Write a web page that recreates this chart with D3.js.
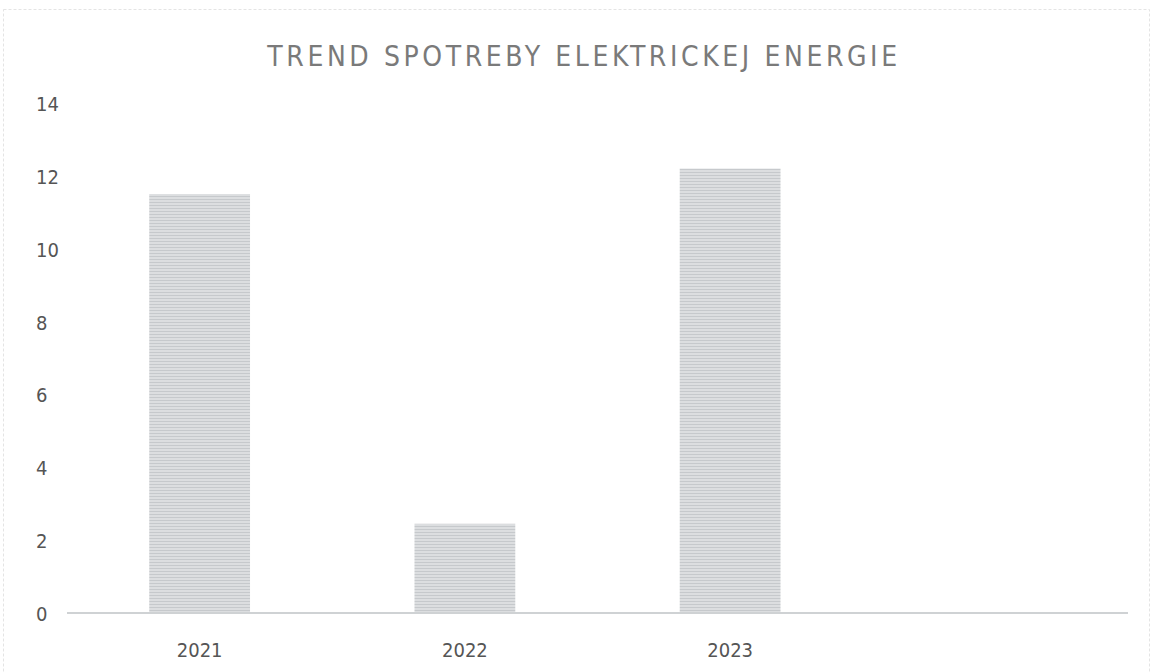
<!DOCTYPE html>
<html>
<head>
<meta charset="utf-8">
<script src="https://cdn.jsdelivr.net/npm/d3@7"></script>
<style>
  body { margin: 0; background: #fff; }
  svg text { font-family: "DejaVu Sans Condensed", "Liberation Sans Narrow", "Roboto", sans-serif; }
</style>
</head>
<body>
<svg class="d3" width="1153" height="672"></svg>
<script>
// data
var years = ["2021", "2022", "2023", ""];
var spotreba = [11.5, 2.45, 12.2, null];
var yTicks = [0, 2, 4, 6, 8, 10, 12, 14];
var title = "TREND SPOTREBY ELEKTRICKEJ ENERGIE";

var svg = d3.select("svg.d3"),
    width = +svg.attr("width"),
    height = +svg.attr("height");

var margin = {left: 67, right: 25, top: 103, bottom: 59};

// faint scan frame
svg.append("rect")
    .attr("x", 3.5).attr("y", 9.5)
    .attr("width", 1146).attr("height", 680)
    .attr("fill", "none")
    .attr("stroke", "#e4e4e4")
    .attr("stroke-dasharray", "3,2");

// texture for bars (printed / scanned look)
var defs = svg.append("defs");
var pat = defs.append("pattern")
    .attr("id", "scan")
    .attr("patternUnits", "userSpaceOnUse")
    .attr("width", 6).attr("height", 3);
pat.append("rect").attr("width", 6).attr("height", 3).attr("fill", "#dcdee0");
pat.append("rect").attr("y", 1).attr("width", 6).attr("height", 1).attr("fill", "#c6c9cc");

var x = d3.scaleBand()
    .domain(years.map(function(d, i) { return i; }))
    .range([margin.left, width - margin.right])
    .paddingInner(0.62)
    .paddingOuter(0.31);

var y = d3.scaleLinear()
    .domain([0, 14])
    .range([height - margin.bottom, margin.top]);

svg.append("text")
    .attr("x", 584).attr("y", 66)
    .attr("text-anchor", "middle")
    .attr("font-size", 28)
    .attr("letter-spacing", 3.6)
    .attr("fill", "#7a7a7a")
    .text(title);

// y tick labels (no gridlines in the original)
svg.append("g").selectAll("text")
    .data(yTicks)
  .enter().append("text")
    .attr("x", 36)
    .attr("y", function(d) { return y(d) + 8; })
    .attr("font-size", 20)
    .attr("fill", "#555")
    .text(function(d) { return d; });

svg.append("g").selectAll("rect")
    .data(spotreba)
  .enter().filter(function(d) { return d != null; }).append("rect")
    .attr("x", function(d, i) { return x(i); })
    .attr("y", function(d) { return y(d); })
    .attr("width", x.bandwidth())
    .attr("height", function(d) { return y(0) - y(d); })
    .attr("fill", "url(#scan)");

// baseline
svg.append("line")
    .attr("x1", margin.left).attr("x2", width - margin.right)
    .attr("y1", y(0)).attr("y2", y(0))
    .attr("stroke", "#cfd2d4")
    .attr("stroke-width", 2);

svg.append("g").selectAll("text")
    .data(years)
  .enter().append("text")
    .attr("x", function(d, i) { return x(i) + x.bandwidth() / 2; })
    .attr("y", 657)
    .attr("text-anchor", "middle")
    .attr("font-size", 20)
    .attr("fill", "#555")
    .text(function(d) { return d; });
</script>
</body>
</html>
